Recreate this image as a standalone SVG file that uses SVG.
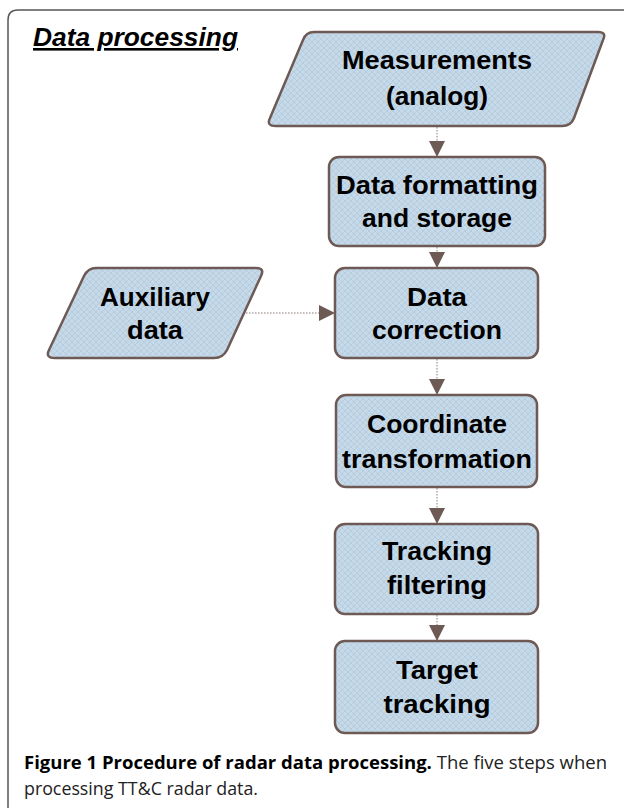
<svg xmlns="http://www.w3.org/2000/svg" width="624" height="808" viewBox="0 0 624 808">
<defs>
<pattern id="hatch" width="6" height="6" patternUnits="userSpaceOnUse">
<rect width="6" height="6" fill="#c6d9e9"/>
<path d="M0,0 L6,6 M6,0 L0,6" stroke="#b3c9dc" stroke-width="0.8"/>
</pattern>
<marker id="ah" viewBox="0 0 10 10" refX="10" refY="5" markerWidth="16" markerHeight="16" markerUnits="userSpaceOnUse" orient="auto">
<path d="M0,0 L10,5 L0,10 Z" fill="#6e5a55"/>
</marker>
</defs>
<style>
.node{fill:url(#hatch);stroke:#6e5a55;stroke-width:2.5;stroke-linejoin:round}
.lbl{font-family:"Liberation Sans",Arial,sans-serif;font-weight:bold;font-size:26px;fill:#000;text-anchor:middle}
.conn{stroke:#8a7a75;stroke-width:1;stroke-dasharray:1.5,1.5;fill:none}
.cap{font-family:"Open Sans","Liberation Sans",sans-serif;font-size:18px;fill:#222}
</style>
<rect width="624" height="808" fill="#fff"/>
<path d="M8,808 L8,20 Q8,10 18,10 L624,10" fill="none" stroke="#555" stroke-width="1.5"/>
<text x="33" y="46" font-family="'Liberation Sans',Arial,sans-serif" font-weight="bold" font-style="italic" font-size="26" text-decoration="underline" textLength="205" lengthAdjust="spacingAndGlyphs">Data processing</text>

<g id="measurements">
<path class="node" d="M314,32 L598,32 Q607,32 603,40 L574,118 Q571,126 562,126 L276,126 Q266,126 270,118 L303,40 Q306,32 314,32 Z"/>
<text class="lbl" x="437" y="69" textLength="190" lengthAdjust="spacingAndGlyphs">Measurements</text>
<text class="lbl" x="437" y="105" textLength="102" lengthAdjust="spacingAndGlyphs">(analog)</text>
</g>
<g id="formatting">
<rect class="node" x="329" y="157" width="216" height="89" rx="10"/>
<text class="lbl" x="437" y="194" textLength="202" lengthAdjust="spacingAndGlyphs">Data formatting</text>
<text class="lbl" x="437" y="227" textLength="150" lengthAdjust="spacingAndGlyphs">and storage</text>
</g>
<g id="auxiliary">
<path class="node" d="M96,268 L256,268 Q265,268 261,276 L227,350 Q223,358 214,358 L55,358 Q45,358 49,350 L84,276 Q88,268 96,268 Z"/>
<text class="lbl" x="155" y="306" textLength="110" lengthAdjust="spacingAndGlyphs">Auxiliary</text>
<text class="lbl" x="155" y="339" textLength="56" lengthAdjust="spacingAndGlyphs">data</text>
</g>
<g id="correction">
<rect class="node" x="335" y="268" width="203" height="90" rx="10"/>
<text class="lbl" x="437" y="306" textLength="60" lengthAdjust="spacingAndGlyphs">Data</text>
<text class="lbl" x="437" y="339" textLength="130" lengthAdjust="spacingAndGlyphs">correction</text>
</g>
<g id="coordinate">
<rect class="node" x="336" y="395" width="201" height="92" rx="10"/>
<text class="lbl" x="437" y="433" textLength="140" lengthAdjust="spacingAndGlyphs">Coordinate</text>
<text class="lbl" x="437" y="468" textLength="190" lengthAdjust="spacingAndGlyphs">transformation</text>
</g>
<g id="tracking-filtering">
<rect class="node" x="335" y="524" width="203" height="90" rx="10"/>
<text class="lbl" x="437" y="560" textLength="110" lengthAdjust="spacingAndGlyphs">Tracking</text>
<text class="lbl" x="437" y="594" textLength="100" lengthAdjust="spacingAndGlyphs">filtering</text>
</g>
<g id="target-tracking">
<rect class="node" x="335" y="641" width="203" height="92" rx="10"/>
<text class="lbl" x="437" y="679" textLength="82" lengthAdjust="spacingAndGlyphs">Target</text>
<text class="lbl" x="437" y="713" textLength="107" lengthAdjust="spacingAndGlyphs">tracking</text>
</g>

<g id="connectors">
<line class="conn" x1="437" y1="127" x2="437" y2="157" marker-end="url(#ah)"/>
<line class="conn" x1="437" y1="247" x2="437" y2="268" marker-end="url(#ah)"/>
<line class="conn" x1="246" y1="313" x2="335" y2="313" marker-end="url(#ah)"/>
<line class="conn" x1="437" y1="359" x2="437" y2="395" marker-end="url(#ah)"/>
<line class="conn" x1="437" y1="488" x2="437" y2="524" marker-end="url(#ah)"/>
<line class="conn" x1="437" y1="615" x2="437" y2="641" marker-end="url(#ah)"/>
</g>

<text class="cap" x="24" y="769" textLength="583" lengthAdjust="spacingAndGlyphs"><tspan font-weight="bold" fill="#000">Figure 1 Procedure of radar data processing.</tspan> The five steps when</text>
<text class="cap" x="24" y="795" textLength="234" lengthAdjust="spacingAndGlyphs">processing TT&amp;C radar data.</text>
</svg>
